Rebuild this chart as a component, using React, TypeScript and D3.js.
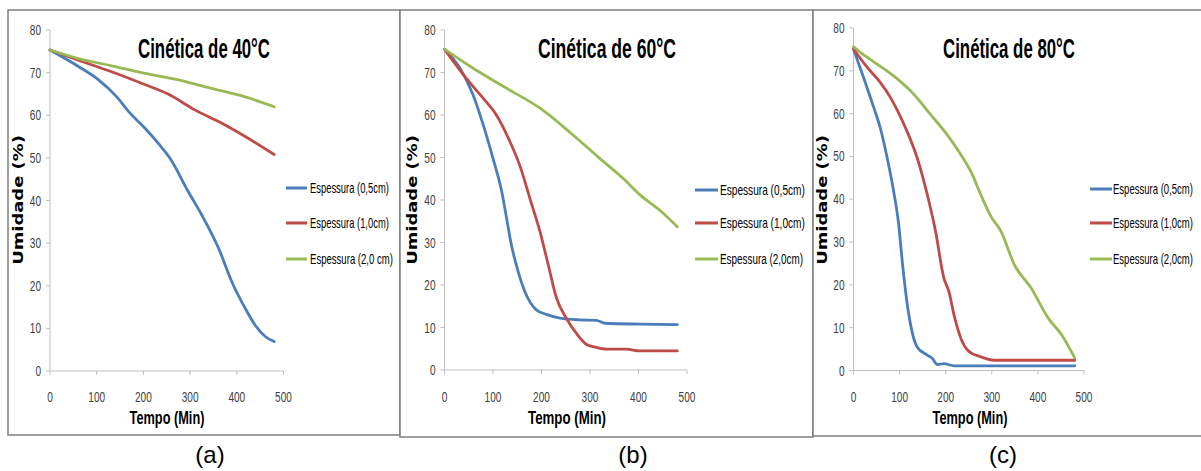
import React from 'react';
import * as d3 from 'd3';

// ---------- DATA ----------
const timeTicks = [0, 100, 200, 300, 400, 500];
const humidityTicks = [0, 10, 20, 30, 40, 50, 60, 70, 80];
const titles = ['Cinética de 40°C', 'Cinética de 60°C', 'Cinética de 80°C'];
const captions = ['(a)', '(b)', '(c)'];
const legendLabels40 = ['Espessura (0,5cm)', 'Espessura (1,0cm)', 'Espessura (2,0 cm)'];
const legendLabels = ['Espessura (0,5cm)', 'Espessura (1,0cm)', 'Espessura (2,0cm)'];
const seriesColors = ['#4A7EBB', '#BE4B48', '#98B954'];

// 40 °C
const t40_05 = [0, 60, 104, 143, 168, 204, 232, 257, 296, 325, 361, 389, 418, 439, 461, 480];
const u40_05 = [75.3, 71.5, 68.3, 64.3, 60.9, 56.9, 53.4, 49.9, 42.1, 36.6, 28.8, 21.0, 14.7, 10.8, 8.1, 6.9];
const t40_10 = [0, 61, 132, 196, 254, 311, 368, 418, 480];
const u40_10 = [75.3, 72.9, 70.2, 67.5, 64.9, 61.2, 58.1, 55.0, 50.8];
const t40_20 = [0, 61, 132, 204, 275, 346, 418, 480];
const u40_20 = [75.3, 73.3, 71.6, 69.8, 68.3, 66.3, 64.3, 62.0];

// 60 °C
const t60_05 = [0, 32, 59, 80, 100, 118, 128, 138, 152, 169, 190, 210, 238, 279, 313, 331, 403, 480];
const u60_05 = [75.5, 71.0, 64.7, 57.6, 49.8, 42.0, 35.7, 29.4, 23.1, 17.6, 14.1, 13.1, 12.2, 11.8, 11.7, 11.0, 10.8, 10.7];
const t60_10 = [0, 45, 80, 107, 135, 155, 176, 197, 214, 231, 251, 272, 293, 313, 334, 375, 403, 480];
const u60_10 = [75.5, 68.6, 63.9, 60.0, 53.7, 48.2, 40.4, 32.5, 24.7, 16.9, 12.2, 8.6, 6.0, 5.3, 4.9, 4.9, 4.5, 4.5];
const t60_20 = [0, 59, 128, 197, 265, 320, 368, 403, 444, 480];
const u60_20 = [75.5, 71.0, 66.3, 61.6, 55.3, 49.8, 45.1, 41.2, 37.6, 33.7];

// 80 °C
const t80_05 = [0, 22, 44, 58, 73, 87, 98, 105, 113, 124, 138, 160, 171, 182, 196, 218, 480];
const u80_05 = [75.1, 68.4, 61.4, 56.7, 49.7, 41.9, 34.1, 26.3, 18.4, 10.6, 5.5, 3.6, 2.8, 1.4, 1.6, 1.1, 1.1];
const t80_10 = [0, 29, 58, 80, 94, 116, 138, 160, 178, 196, 207, 218, 233, 251, 276, 305, 480];
const u80_10 = [75.1, 70.9, 67.3, 63.8, 61.0, 55.9, 49.7, 41.1, 32.5, 21.6, 18.4, 13.0, 7.5, 4.4, 3.2, 2.4, 2.4];
const t80_20 = [0, 15, 44, 87, 131, 167, 203, 233, 254, 276, 298, 320, 349, 385, 422, 451, 480];
const u80_20 = [75.6, 74.3, 72.1, 68.8, 64.5, 59.8, 55.1, 50.4, 46.6, 41.1, 36.0, 32.5, 24.7, 19.3, 12.3, 8.4, 2.9];

const panelSeries = [
  [[t40_05, u40_05], [t40_10, u40_10], [t40_20, u40_20]],
  [[t60_05, u60_05], [t60_10, u60_10], [t60_20, u60_20]],
  [[t80_05, u80_05], [t80_10, u80_10], [t80_20, u80_20]],
];
const panelLegends = [legendLabels40, legendLabels, legendLabels];

// ---------- LAYOUT ----------
const layouts = [
  { frame: [8, 10, 392, 425], x0: 50, x1: 283.5, yTop: 30, yBot: 371, titleX: 204, titleW: 132,
    legLine: [286, 307], legText: 310, legY: [188, 223, 259], legW: [79, 79, 83], yLabX: 18,
    xLabX: 167, xLabW: 75, capX: 210 },
  { frame: [400, 10, 413, 427], x0: 444.5, x1: 687, yTop: 30, yBot: 370, titleX: 607, titleW: 138,
    legLine: [695, 718], legText: 720, legY: [190, 223, 259], legW: [85, 85, 83], yLabX: 412,
    xLabX: 567, xLabW: 78, capX: 633 },
  { frame: [813, 10, 392, 426], x0: 853.5, x1: 1084, yTop: 28, yBot: 370.5, titleX: 1009, titleW: 132,
    legLine: [1090, 1112], legText: 1113, legY: [189, 223, 259], legW: [80, 80, 80], yLabX: 822,
    xLabX: 970, xLabW: 75, capX: 1003 },
];

const FONT = "'Liberation Sans', Arial, sans-serif";
const LABEL_FONT = "'DejaVu Sans', Verdana, sans-serif";

let measureCtx: CanvasRenderingContext2D | null = null;
function measure(s: string, size: number, weight: string, family: string): number {
  if (!measureCtx) measureCtx = document.createElement('canvas').getContext('2d');
  if (!measureCtx) return s.length * size * 0.5;
  measureCtx.font = `${weight} ${size}px ${family}`;
  return measureCtx.measureText(s).width || s.length * size * 0.5;
}

function FitText(props: {
  x: number; y: number; w: number; size: number; text: string; anchor?: string;
  weight?: string; family?: string; fill?: string; rotate?: number;
}) {
  const { x, y, w, size, text, anchor = 'start', weight = 'normal', family = FONT, fill = '#000', rotate = 0 } = props;
  const nat = measure(text, size, weight, family);
  const sx = w / nat;
  return (
    <text
      transform={`translate(${x},${y})${rotate ? ` rotate(${rotate})` : ''} scale(${sx.toFixed(4)},1)`}
      textAnchor={anchor as any}
      fontFamily={family}
      fontWeight={weight}
      fontSize={size}
      fill={fill}
    >
      {text}
    </text>
  );
}

function Panel({ idx }: { idx: number }) {
  const L = layouts[idx];
  const x = d3.scaleLinear().domain([0, 500]).range([L.x0, L.x1]);
  const y = d3.scaleLinear().domain([0, 80]).range([L.yBot, L.yTop]);
  const line = d3
    .line<[number, number]>()
    .x((d) => x(d[0]))
    .y((d) => y(d[1]))
    .curve(d3.curveMonotoneX);
  const series = panelSeries[idx];
  const legends = panelLegends[idx];
  const axisColor = '#BFBFBF';
  const tickColor = '#404040';
  return (
    <g>
      <rect x={L.frame[0]} y={L.frame[1]} width={L.frame[2]} height={L.frame[3]} fill="white" stroke="#7F7F7F" strokeWidth={1.5} />
      {/* y axis */}
      <line x1={x(0)} x2={x(0)} y1={y(80)} y2={y(0)} stroke={axisColor} strokeWidth={1} />
      {humidityTicks.map((v) => (
        <g key={'y' + v}>
          <line x1={x(0) - 4} x2={x(0)} y1={y(v)} y2={y(v)} stroke={axisColor} strokeWidth={1} />
          <FitText x={x(0) - 9} y={y(v) + 5} anchor="end" size={14} fill={tickColor}
            w={String(v).length * 5.6} text={String(v)} />
        </g>
      ))}
      {/* x axis */}
      <line x1={x(0)} x2={x(500)} y1={y(0)} y2={y(0)} stroke={axisColor} strokeWidth={1} />
      {timeTicks.map((v) => (
        <g key={'x' + v}>
          <line x1={x(v)} x2={x(v)} y1={y(0)} y2={y(0) + 4} stroke={axisColor} strokeWidth={1} />
          <FitText x={x(v)} y={402} anchor="middle" size={15} fill={tickColor}
            w={String(v).length * 5.6} text={String(v)} />
        </g>
      ))}
      {/* lines */}
      {series.map((s, i) => (
        <path key={'s' + i} d={line(d3.zip(s[0], s[1]) as [number, number][]) || ''} fill="none"
          stroke={seriesColors[i]} strokeWidth={2.8} strokeLinejoin="round" strokeLinecap="round" />
      ))}
      {/* title */}
      <FitText x={L.titleX} y={58} anchor="middle" weight="bold" size={28} w={L.titleW} text={titles[idx]} />
      {/* legend */}
      {legends.map((lab, i) => (
        <g key={'l' + i}>
          <line x1={L.legLine[0]} x2={L.legLine[1]} y1={L.legY[i]} y2={L.legY[i]} stroke={seriesColors[i]} strokeWidth={3} />
          <FitText x={L.legText} y={L.legY[i] + 5} size={14} w={L.legW[i]} text={lab} />
        </g>
      ))}
      {/* axis titles */}
      <FitText x={L.xLabX} y={424} anchor="middle" weight="bold" size={18} w={L.xLabW} text="Tempo (Min)" />
      <FitText x={L.yLabX + 5} y={200} anchor="middle" weight="bold" size={14.5} w={136}
        family={LABEL_FONT} rotate={-90} text="Umidade  (%)" />
      {/* caption */}
      <text x={L.capX} y={463} textAnchor="middle" fontFamily={FONT} fontSize={24} fill="#000">{captions[idx]}</text>
    </g>
  );
}

export default function App() {
  return (
    <svg width={1201} height={471} style={{ position: 'absolute', left: 0, top: 0, background: 'white' }}>
      <rect x={0} y={0} width={1201} height={471} fill="white" />
      {[0, 1, 2].map((i) => (
        <Panel key={i} idx={i} />
      ))}
    </svg>
  );
}
